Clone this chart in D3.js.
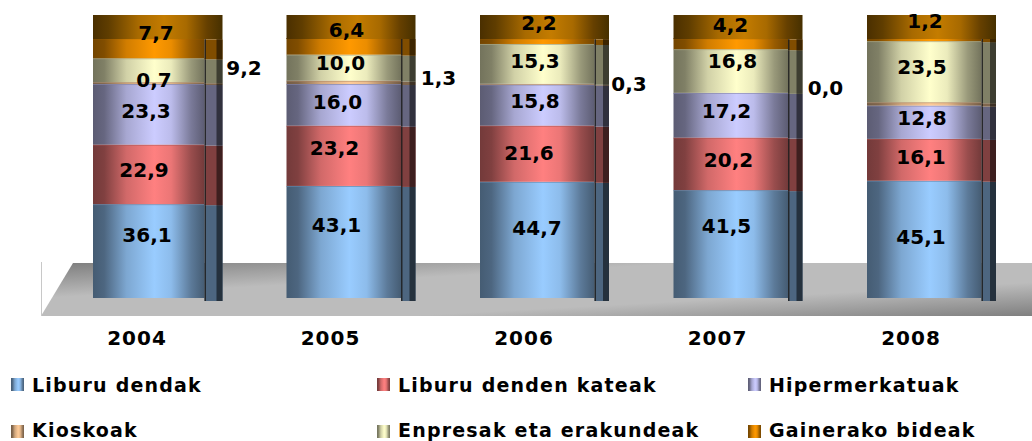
<!DOCTYPE html>
<html><head><meta charset="utf-8">
<script src="https://cdnjs.cloudflare.com/ajax/libs/d3/7.8.5/d3.min.js"></script>
<style>html,body{margin:0;background:#fff;overflow:hidden}svg{display:block}text{font-family:"DejaVu Sans",Verdana,sans-serif;font-weight:700;fill:#000}</style>
</head><body><svg id="c" width="1032" height="441"></svg>
<script>
const years = ["2004","2005","2006","2007","2008"];
const seriesNames = ["Liburu dendak","Liburu denden kateak","Hipermerkatuak","Kioskoak","Enpresak eta erakundeak","Gainerako bideak"];
const liburuDendak = [36.1,43.1,44.7,41.5,45.1];
const liburuKateak = [22.9,23.2,21.6,20.2,16.1];
const hipermerkatuak = [23.3,16.0,15.8,17.2,12.8];
const kioskoak = [0.7,1.3,0.3,0.0,1.3];
const enpresak = [9.2,10.0,15.3,16.8,23.5];
const gainerakoak = [7.7,6.4,2.2,4.2,1.2];
const seriesValues = [liburuDendak,liburuKateak,hipermerkatuak,kioskoak,enpresak,gainerakoak];
const seriesColors = ["#99CCFF","#FF8080","#CCCCFF","#FFCC99","#FFFFCC","#FF9900"];

// layout, separate from the data
const frontW = [111.5,114.5,114.5,114.5,114.5];
const sideW = [18,14.5,14.5,14.5,14.5];
const capTop = 15;
// label nudges from each segment's centre, per year then per series; null = no label drawn
const labelOff = [
 [[-2,-15],[-5,-3],[-3,-2],[5,-2],[95,-1],[7,-14]],
 [[-6,-16],[-8,-7],[-5,-2],[96,-3],[-2,-4],[4,-15]],
 [[1,-11],[-7,0],[-1,-3],[93,1],[-1,-2],[3,-17]],
 [[-3,-17],[-1,-3],[-3,-3],[96,-4],[3,-9],[1,-18]],
 [[-2,-1],[-2,-2],[-1,-3],null,[-1,-4],[2,-18]]
];

const svg = d3.select("#c"), defs = svg.append("defs");
const x = d3.scaleBand().domain(years).range([93,93+193.5*5]);
const y = d3.scaleLinear().domain([0,100]).range([298,38]);

function grad(id,c,k){
  const r=d3.rgb(c);
  const g=defs.append("linearGradient").attr("id",id);
  [[0,.45],[.1,.5],[.3,.82],[.55,1],[.7,.92],[.88,.6],[1,.45]].forEach(([o,t])=>
    g.append("stop").attr("offset",o).attr("stop-color",d3.rgb(r.r*t*k,r.g*t*k,r.b*t*k).formatHex()));
}
seriesColors.forEach((c,i)=>grad("g"+i,c,1));
const cap=defs.append("linearGradient").attr("id","cap");
[[0,"#4a2f00"],[.12,"#5f3d00"],[.35,"#a86a00"],[.55,"#c47c00"],[.72,"#a86a00"],[.88,"#664000"],[1,"#463000"]]
  .forEach(([o,c])=>cap.append("stop").attr("offset",o).attr("stop-color",c));
const floorG=defs.append("linearGradient").attr("id","floor").attr("gradientUnits","userSpaceOnUse")
  .attr("x1",73).attr("y1",263).attr("x2",78.6).attr("y2",367);
[[0,"#808080"],[.32,"#bcbcbc"],[.68,"#bcbcbc"],[1,"#808080"]]
  .forEach(([o,c])=>floorG.append("stop").attr("offset",o).attr("stop-color",c));

svg.append("polygon").attr("points","41,316 73,263 1032,263 1032,316").attr("fill","url(#floor)");
svg.append("line").attr("x1",41.5).attr("x2",41.5).attr("y1",262).attr("y2",316).attr("stroke","#c8c8c8");

const stacked=d3.stack().keys(d3.range(6)).value((d,k)=>seriesValues[k][d])(d3.range(5));
stacked.forEach((ser,s)=>{
  const r=d3.rgb(seriesColors[s]);
  const mid=d3.rgb(r.r*.5,r.g*.5,r.b*.5), dark=d3.rgb(r.r*.24,r.g*.24,r.b*.24);
  ser.forEach((v,i)=>{
    if(v[1]-v[0]<=0) return;
    const X=x(years[i]), w=frontW[i], sw=sideW[i], y0=y(v[0]), y1=y(v[1]);
    const ext = s===0 ? 2 : 0;
    svg.append("rect").attr("x",X).attr("y",y1).attr("width",w).attr("height",y0-y1).attr("fill",`url(#g${s})`);
    svg.append("line").attr("x1",X).attr("x2",X+w).attr("y1",y1+.5).attr("y2",y1+.5)
      .attr("stroke",r.darker(1.2)).attr("stroke-opacity",.7);
    svg.append("rect").attr("x",X+w).attr("y",y1+1).attr("width",sw).attr("height",y0-y1+ext).attr("fill",mid);
    svg.append("rect").attr("x",X+w+sw-6).attr("y",y1+1).attr("width",6).attr("height",y0-y1+ext).attr("fill",dark);
    svg.append("rect").attr("x",X+w).attr("y",y1+1).attr("width",1.5).attr("height",y0-y1+ext).attr("fill","#1c1c1c").attr("fill-opacity",.85);
  });
});
years.forEach((yr,i)=>{
  svg.append("rect").attr("x",x(yr)).attr("y",capTop).attr("width",frontW[i]+sideW[i])
    .attr("height",y(100)-capTop+1).attr("fill","url(#cap)");
});

stacked.forEach((ser,s)=>ser.forEach((v,i)=>{
  const o=labelOff[i][s];
  if(!o) return;
  svg.append("text").attr("x",x(years[i])+56+o[0]).attr("y",(y(v[0])+y(v[1]))/2+o[1]+6)
    .attr("text-anchor","middle").attr("font-size",20).text(d3.format(".1f")(v[1]-v[0]).replace(".",","));
}));

svg.selectAll(".yr").data(years).join("text").attr("class","yr")
  .attr("x",d=>x(d)+44).attr("y",345).attr("text-anchor","middle")
  .attr("font-size",20).attr("letter-spacing",1).text(d=>d);

const legX=[11,377,748], legY=[378,425], legBase=[392,436.5];
seriesNames.forEach((n,i)=>{
  const lx=legX[i%3], row=Math.floor(i/3);
  svg.append("rect").attr("x",lx).attr("y",legY[row]).attr("width",13).attr("height",13).attr("fill",`url(#g${i})`);
  svg.append("text").attr("x",lx+21).attr("y",legBase[row]).attr("font-size",19).attr("letter-spacing",1.2).text(n);
});
</script></body></html>
